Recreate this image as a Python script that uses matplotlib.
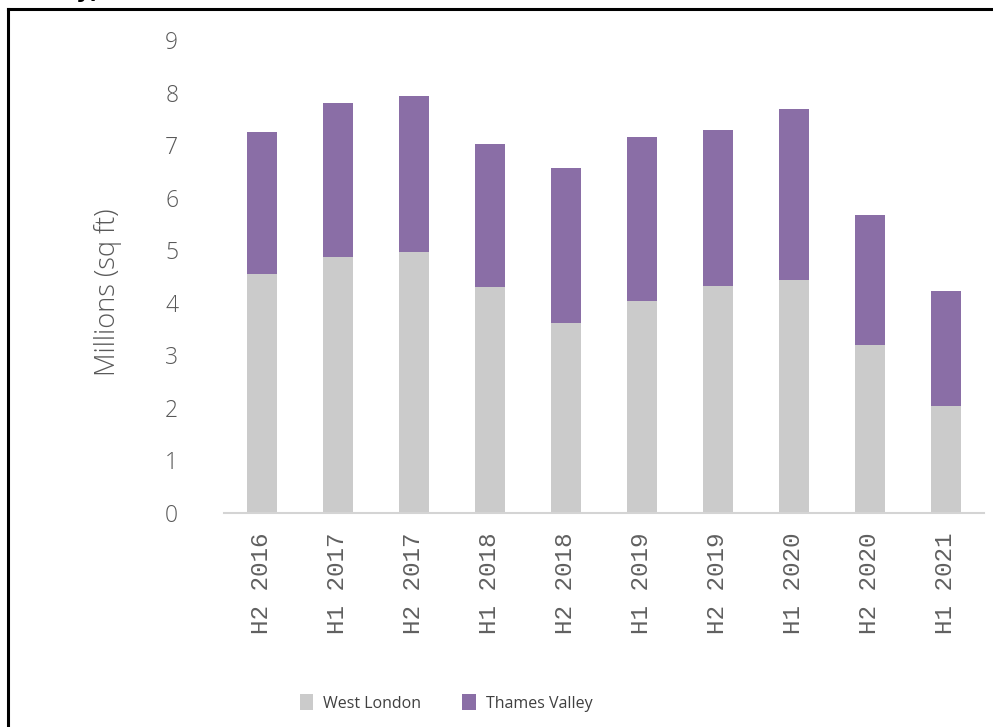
import matplotlib
matplotlib.use("Agg")
import matplotlib.pyplot as plt
from matplotlib.lines import Line2D
from matplotlib.patches import Patch
import numpy as np

# Half-year office take-up, millions of sq ft
periods = ["H2 2016", "H1 2017", "H2 2017", "H1 2018", "H2 2018",
           "H1 2019", "H2 2019", "H1 2020", "H2 2020", "H1 2021"]
west_london = [4.55, 4.87, 4.97, 4.30, 3.61, 4.04, 4.33, 4.44, 3.20, 2.04]
totals = [7.26, 7.80, 7.95, 7.03, 6.58, 7.16, 7.30, 7.69, 5.67, 4.22]
thames_valley = [t - w for t, w in zip(totals, west_london)]
y_ticks = list(range(0, 10))

GREY = "#cbcbcb"
PURPLE = "#8a6ea6"
TEXT = "#595959"

W, H = 993, 727
fig = plt.figure(figsize=(W / 100, H / 100), dpi=100)
fig.patch.set_facecolor("white")

ax = fig.add_axes([224 / W, 1 - 513 / H, (984 - 224) / W, (513 - 40.5) / H])
x = np.arange(len(periods))
bar_w = 0.39
ax.bar(x, west_london, width=bar_w, color=GREY, label="West London", zorder=2)
ax.bar(x, thames_valley, width=bar_w, bottom=west_london, color=PURPLE,
       label="Thames Valley", zorder=2)

ax.set_xlim(-0.5, len(periods) - 0.5)
ax.set_ylim(0, 9)
ax.set_yticks(y_ticks)
ax.set_yticklabels([str(v) for v in y_ticks], fontsize=16.5, color=TEXT,
                   family=["Open Sans", "DejaVu Sans"], fontweight="light")
ax.tick_params(axis="y", length=0, pad=33)
ax.set_xticks(x)
ax.set_xticklabels(periods, rotation=90, fontsize=17.5, color="#606060",
                   family=["Liberation Mono", "DejaVu Sans Mono"])
ax.tick_params(axis="x", length=0, pad=14)

for side in ("left", "right", "top"):
    ax.spines[side].set_visible(False)
ax.spines["bottom"].set_color("#d4d4d4")
ax.spines["bottom"].set_linewidth(1.5)

fig.text(108 / W, 1 - 292 / H, "Millions (sq ft)", rotation=90, ha="center",
         va="center", fontsize=19.5, color=TEXT, fontweight="light",
         family=["Open Sans", "DejaVu Sans"])

handles = [Patch(facecolor=GREY, edgecolor="none", label="West London"),
           Patch(facecolor=PURPLE, edgecolor="none", label="Thames Valley")]
fig.legend(handles=handles, loc="center", bbox_to_anchor=(446 / W, 1 - 703 / H),
           ncol=2, frameon=False, handlelength=0.85,
           handleheight=1.1, handletextpad=0.6, columnspacing=2.6,
           labelcolor="#404040",
           prop={"family": ["Open Sans", "DejaVu Sans"], "size": 11.5})

# Frame around the figure panel and the clipped heading above it
fig.add_artist(Line2D([8 / W, 1.0], [1 - 8.5 / H, 1 - 8.5 / H],
                      transform=fig.transFigure, color="black", lw=2.2))
fig.add_artist(Line2D([8 / W, 8 / W], [0.0, 1 - 8.5 / H],
                      transform=fig.transFigure, color="black", lw=2.2))
fig.text(76 / W, 1 + 2 / H, "y)", ha="left", va="baseline", fontsize=16,
         fontweight="bold", color="black")

fig.savefig("out.png", dpi=100, facecolor="white")
